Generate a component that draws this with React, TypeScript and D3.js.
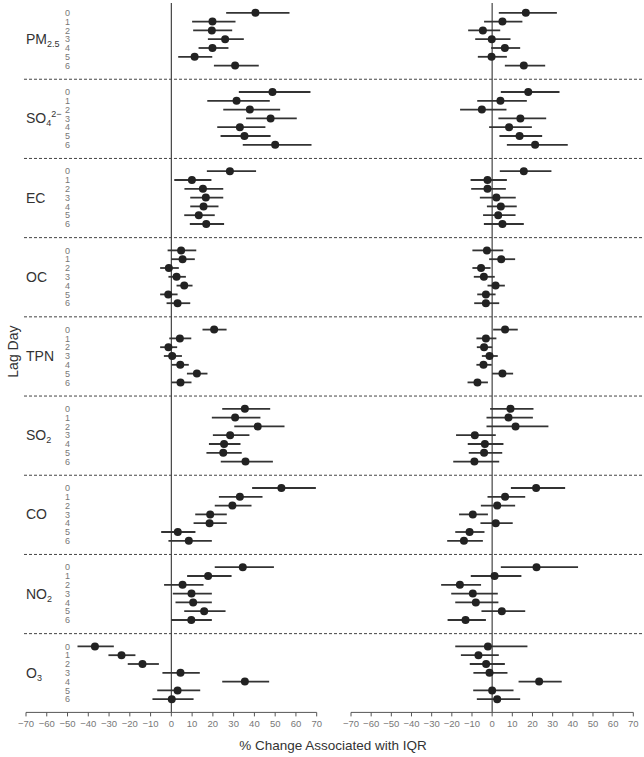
import React from "react";
import * as d3 from "d3";

const pollutants = ["PM2.5", "SO4", "EC", "OC", "TPN", "SO2", "CO", "NO2", "O3"];
const lags = [0, 1, 2, 3, 4, 5, 6];
const xTicks = [-70, -60, -50, -40, -30, -20, -10, 0, 10, 20, 30, 40, 50, 60, 70];

// [estimate, lower, upper] per lag, left panel
const leftPM25 = [[40.5, 26.4, 56.9], [19.8, 10.0, 30.9], [19.5, 10.5, 29.3], [25.9, 17.6, 34.9], [19.8, 13.1, 27.5], [11.2, 3.3, 19.7], [30.7, 20.5, 42.1]];
const leftSO4 = [[48.7, 32.5, 67.0], [31.4, 17.3, 47.4], [37.8, 25.0, 52.4], [47.8, 36.0, 60.4], [33.0, 22.1, 45.3], [35.2, 23.7, 47.8], [50.0, 34.4, 67.5]];
const leftEC = [[28.2, 17.1, 40.8], [9.9, 1.4, 19.3], [15.2, 6.3, 25.0], [16.6, 9.1, 25.0], [15.5, 9.1, 22.7], [13.2, 6.2, 20.9], [16.8, 8.9, 25.4]];
const leftOC = [[4.7, -1.8, 12.0], [5.4, -0.1, 11.3], [-1.2, -5.4, 3.6], [2.5, -1.4, 7.0], [6.2, 2.5, 10.2], [-1.5, -5.4, 3.0], [3.0, -2.3, 9.1]];
const leftTPN = [[20.6, 15.0, 26.6], [4.1, -1.0, 9.6], [-1.4, -5.4, 2.8], [0.4, -3.6, 5.1], [4.3, 0.2, 8.4], [12.3, 7.5, 17.4], [4.4, 0.1, 9.7]];
const leftSO2 = [[35.4, 24.5, 47.6], [30.7, 19.5, 42.9], [41.6, 30.3, 54.5], [28.3, 20.0, 37.6], [25.4, 18.1, 33.3], [25.0, 16.9, 33.9], [35.7, 23.8, 48.9]];
const leftCO = [[53.0, 38.9, 69.6], [33.0, 22.9, 43.9], [29.4, 20.9, 38.6], [18.7, 11.5, 26.7], [18.4, 10.7, 26.7], [3.1, -4.9, 11.6], [8.4, -1.4, 19.5]];
const leftNO2 = [[34.4, 20.9, 49.4], [17.7, 7.6, 29.0], [5.4, -3.5, 15.5], [9.7, 0.7, 19.5], [10.5, 2.0, 19.5], [15.8, 6.2, 26.1], [9.6, -0.1, 19.5]];
const leftO3 = [[-36.8, -45.2, -27.7], [-24.0, -30.3, -17.3], [-13.9, -21.0, -6.0], [4.4, -4.3, 13.7], [35.4, 24.5, 47.1], [3.0, -6.8, 13.9], [0.2, -9.1, 10.7]];

// right panel
const rightPM25 = [[16.7, 3.3, 32.1], [5.1, -4.0, 15.0], [-4.6, -11.9, 4.0], [-0.2, -8.4, 9.1], [6.3, -0.5, 13.9], [-0.3, -7.1, 7.3], [15.7, 6.3, 26.3]];
const rightSO4 = [[17.9, 4.3, 33.4], [4.1, -7.4, 17.2], [-5.1, -15.9, 7.1], [14.0, 3.1, 26.8], [8.4, -1.5, 19.7], [13.6, 3.6, 24.8], [21.3, 7.3, 37.5]];
const rightEC = [[15.7, 3.8, 29.4], [-2.3, -10.7, 7.3], [-2.3, -10.4, 6.8], [2.1, -6.1, 11.7], [4.3, -2.6, 12.2], [3.0, -4.5, 11.6], [5.1, -4.1, 15.7]];
const rightOC = [[-2.6, -9.8, 5.5], [4.5, -1.5, 11.4], [-5.5, -9.8, -0.8], [-4.1, -9.1, 1.3], [1.7, -2.3, 6.3], [-3.1, -7.4, 1.7], [-3.1, -8.9, 3.5]];
const rightTPN = [[6.4, 0.5, 12.7], [-3.1, -7.8, 2.1], [-4.0, -7.6, 0.0], [-1.3, -5.1, 2.8], [-4.3, -7.8, -0.2], [5.1, 0.0, 10.4], [-7.3, -12.2, -2.1]];
const rightSO2 = [[9.1, -1.0, 20.5], [8.1, -2.8, 20.2], [11.6, -2.8, 27.9], [-8.6, -17.9, 1.8], [-3.6, -12.1, 5.6], [-4.0, -11.6, 5.0], [-8.8, -19.3, 3.5]];
const rightCO = [[21.8, 9.3, 36.2], [6.4, -2.3, 16.4], [2.5, -5.6, 11.4], [-9.6, -16.4, -2.1], [1.8, -5.8, 10.2], [-11.2, -18.3, -3.8], [-14.0, -22.3, -4.6]];
const rightNO2 = [[22.0, 4.3, 42.6], [1.2, -10.6, 14.5], [-16.0, -25.3, -5.5], [-9.6, -20.3, 2.8], [-8.1, -18.3, 3.1], [4.8, -5.3, 16.4], [-13.2, -22.1, -3.1]];
const rightO3 = [[-2.1, -18.3, 17.5], [-6.8, -15.5, 3.3], [-3.0, -11.1, 6.3], [-1.3, -9.3, 7.6], [23.3, 13.1, 34.5], [0.0, -9.4, 10.6], [2.5, -7.6, 13.9]];

const leftData = [leftPM25, leftSO4, leftEC, leftOC, leftTPN, leftSO2, leftCO, leftNO2, leftO3];
const rightData = [rightPM25, rightSO4, rightEC, rightOC, rightTPN, rightSO2, rightCO, rightNO2, rightO3];

const FONT = "'Liberation Sans', Arial, Helvetica, sans-serif";

function GroupLabel({ name, x, y }: { name: string; x: number; y: number }) {
  const common = { fontFamily: FONT, fill: "#333", fontSize: 14 };
  if (name === "PM2.5")
    return (
      <text x={x} y={y} dy="0.35em" {...common}>
        PM<tspan fontSize={9} dy={3}>2.5</tspan>
      </text>
    );
  if (name === "SO4")
    return (
      <text x={x} y={y} dy="0.35em" {...common}>
        SO<tspan fontSize={9} dy={3}>4</tspan>
        <tspan fontSize={9} dy={-9}>2−</tspan>
      </text>
    );
  if (name === "SO2" || name === "NO2" || name === "O3")
    return (
      <text x={x} y={y} dy="0.35em" {...common}>
        {name.slice(0, -1)}
        <tspan fontSize={9} dy={3}>{name.slice(-1)}</tspan>
      </text>
    );
  return (
    <text x={x} y={y} dy="0.35em" {...common}>
      {name}
    </text>
  );
}

export default function App() {
  const W = 644;
  const H = 757;
  const rowY = d3.scaleLinear().domain([0, 1]).range([12.8, 21.6]);
  const axisY = rowY(79.5);
  const topY = 3;
  const xL = d3.scaleLinear().domain([-70, 70]).range([26, 316.7]);
  const xR = d3.scaleLinear().domain([-70, 70]).range([351, 633.3]);
  const panels = [
    { x: xL, data: leftData },
    { x: xR, data: rightData },
  ];

  return (
    <svg width={W} height={H} style={{ position: "absolute", left: 0, top: 0, background: "#fff" }}>
      <rect width={W} height={H} fill="#fff" />
      {pollutants.slice(1).map((_, i) => {
        const y = rowY((i + 1) * 9 - 1.45);
        return <line key={i} x1={24} x2={644} y1={y} y2={y} stroke="#444" strokeWidth={1} strokeDasharray="3,2" />;
      })}
      {pollutants.map((p, g) => (
        <g key={p}>
          <GroupLabel name={p} x={26} y={rowY(g * 9 + 3)} />
          {lags.map((l) => (
            <text key={l} x={67.5} y={rowY(g * 9 + l)} dy="0.35em" textAnchor="middle" fontFamily={FONT} fontSize={9} fill="#777">
              {l}
            </text>
          ))}
        </g>
      ))}
      <text
        transform={`translate(13,${rowY(38.5)}) rotate(-90)`}
        textAnchor="middle"
        dy="0.35em"
        fontFamily={FONT}
        fontSize={14}
        fill="#333"
      >
        Lag Day
      </text>
      {panels.map((panel, pi) => (
        <g key={pi}>
          <line x1={panel.x(0)} x2={panel.x(0)} y1={topY} y2={axisY} stroke="#444" strokeWidth={1.2} />
          <line x1={panel.x(-70)} x2={panel.x(70)} y1={axisY} y2={axisY} stroke="#555" strokeWidth={1} />
          {xTicks.map((t) => (
            <g key={t}>
              <line x1={panel.x(t)} x2={panel.x(t)} y1={axisY} y2={axisY + 4} stroke="#555" strokeWidth={1} />
              <text x={panel.x(t)} y={axisY + 11} dy="0.35em" textAnchor="middle" fontFamily={FONT} fontSize={9.5} fill="#777">
                {t < 0 ? `−${-t}` : t}
              </text>
            </g>
          ))}
          {panel.data.map((group, g) =>
            group.map((d, l) => {
              const y = rowY(g * 9 + l);
              return (
                <g key={`${g}-${l}`}>
                  <line x1={panel.x(d[1])} x2={panel.x(d[2])} y1={y} y2={y} stroke="#333" strokeWidth={1.8} />
                  <circle cx={panel.x(d[0])} cy={y} r={4} fill="#222" />
                </g>
              );
            })
          )}
        </g>
      ))}
      <text x={333} y={745} dy="0.35em" textAnchor="middle" fontFamily={FONT} fontSize={13.5} fill="#333">
        % Change Associated with IQR
      </text>
    </svg>
  );
}
